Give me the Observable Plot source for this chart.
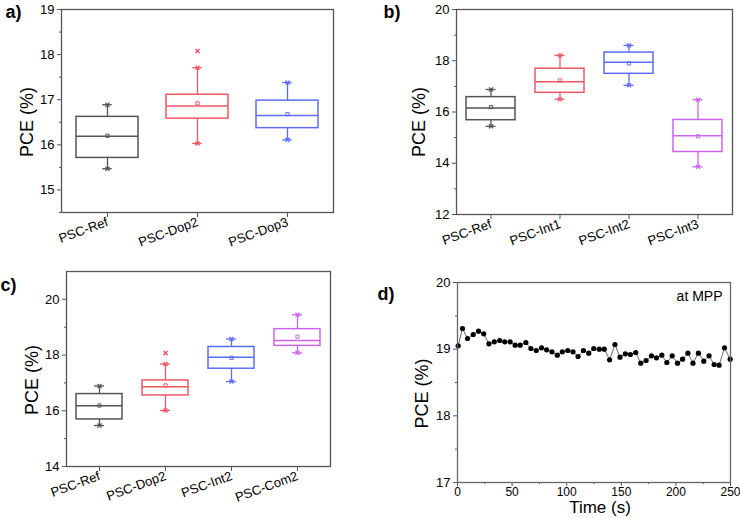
<!DOCTYPE html>
<html>
<head>
<meta charset="utf-8">
<script src="https://cdn.jsdelivr.net/npm/d3@7"></script>
<script src="https://cdn.jsdelivr.net/npm/@observablehq/plot@0.6"></script>
<style>
  html, body { margin: 0; padding: 0; background: #fff; }
  #wrap { position: relative; width: 740px; height: 518px; background: #fff; }
  #wrap svg { position: absolute; }
</style>
</head>
<body>
<div id="wrap"></div>
<script>
// ---------- Panel a ----------
const catsA  = ["PSC-Ref", "PSC-Dop2", "PSC-Dop3"];
const colsA  = ["#555555", "#f25767", "#5b6cf5"];
const minA   = [15.47, 16.03, 16.11];
const q1A    = [15.71, 16.58, 16.37];
const medA   = [16.19, 16.86, 16.65];
const meanA  = [16.20, 16.92, 16.68];
const q3A    = [16.62, 17.11, 16.98];
const maxA   = [16.89, 17.71, 17.38];
const outCatA = ["PSC-Dop2"];
const outValA = [18.08];

// ---------- Panel b ----------
const catsB  = ["PSC-Ref", "PSC-Int1", "PSC-Int2", "PSC-Int3"];
const colsB  = ["#555555", "#f25767", "#5b6cf5", "#cc66ee"];
const minB   = [15.44, 16.50, 17.04, 13.86];
const q1B    = [15.68, 16.75, 17.49, 14.44];
const medB   = [16.16, 17.18, 17.94, 15.07];
const meanB  = [16.19, 17.23, 17.90, 15.05];
const q3B    = [16.58, 17.69, 18.32, 15.69];
const maxB   = [16.88, 18.21, 18.60, 16.48];

// ---------- Panel c ----------
const catsC  = ["PSC-Ref", "PSC-Dop2", "PSC-Int2", "PSC-Com2"];
const colsC  = ["#555555", "#f25767", "#5b6cf5", "#cc66ee"];
const minC   = [15.47, 16.01, 17.05, 18.08];
const q1C    = [15.69, 16.55, 17.51, 18.33];
const medC   = [16.18, 16.86, 17.92, 18.52];
const meanC  = [16.19, 16.91, 17.90, 18.66];
const q3C    = [16.60, 17.09, 18.29, 18.93];
const maxC   = [16.89, 17.68, 18.58, 19.45];
const outCatC = ["PSC-Dop2"];
const outValC = [18.07];

// ---------- Panel d ----------
const timeD = [0.6, 4.6, 9.2, 14.4, 19.3, 24.0, 28.8, 33.7, 38.7, 43.3, 48.2, 52.8, 57.4, 62.6, 67.2,
  72.1, 77.0, 81.6, 86.5, 91.4, 96.0, 101.0, 105.8, 110.4, 115.3, 120.2, 124.8, 129.8, 134.4, 139.3,
  144.2, 148.8, 153.7, 158.3, 163.2, 167.8, 172.7, 177.6, 182.2, 187.1, 191.7, 196.6, 201.5, 206.1,
  211.0, 215.6, 220.6, 225.5, 230.4, 235.0, 239.6, 244.5, 249.7];
const pceD = [19.05, 19.31, 19.16, 19.22, 19.27, 19.23, 19.08, 19.11, 19.13, 19.11, 19.11, 19.06, 19.06, 19.10, 19.01,
  18.98, 19.02, 18.99, 18.96, 18.91, 18.96, 18.98, 18.96, 18.89, 18.98, 18.94, 19.01, 19.00, 19.00, 18.84,
  19.07, 18.88, 18.93, 18.92, 18.95, 18.79, 18.83, 18.90, 18.87, 18.91, 18.80, 18.90, 18.79, 18.85,
  18.94, 18.79, 18.94, 18.82, 18.90, 18.77, 18.76, 19.02, 18.85];

const yLabel = "PCE (%)";
const xLabelD = "Time (s)";
const noteD = "at MPP";

const FONT = "'Liberation Sans', Arial, Helvetica, sans-serif";
const fmt = d3.format("~g");
const wrap = document.getElementById("wrap");

function place(svg, left, top) {
  svg.style.left = left + "px";
  svg.style.top = top + "px";
  wrap.appendChild(svg);
}

function boxPanel(o) {
  const rows = o.cats.map((c, i) => ({cat: c, min: o.min[i], q1: o.q1[i], med: o.med[i], mean: o.mean[i], q3: o.q3[i], max: o.max[i]}));
  const outs = (o.outCat || []).map((c, i) => ({cat: c, v: o.outVal[i]}));
  const plotW = 370 - o.ml - o.mr;
  const step = plotW / (o.cats.length - o.pi + 2 * o.po);
  const bw = step * (1 - o.pi);
  const capInset = bw / 2 - 5;
  return Plot.plot({
    width: 370, height: 259,
    marginLeft: o.ml, marginRight: o.mr, marginTop: o.mt, marginBottom: o.mb,
    style: {fontFamily: FONT, fontSize: "13px", color: "#000", background: "transparent", overflow: "visible"},
    x: {domain: o.cats, type: "band", paddingInner: o.pi, paddingOuter: o.po},
    y: {domain: o.ydom},
    color: {domain: o.cats, range: o.cols},
    marks: [
      Plot.axisY({ticks: o.major, tickSize: 4, tickPadding: 3, tickFormat: fmt, label: null, fontSize: 13, stroke: "#555"}),
      Plot.axisY({ticks: o.minor, tickSize: 2, tickFormat: () => "", label: null, stroke: "#555"}),
      Plot.axisX({tickSize: 5, tickRotate: -20, tickPadding: 4, label: null, fontSize: 13, stroke: "#555"}),
      Plot.ruleX(rows, {x: "cat", y1: "q3", y2: "max", stroke: "cat", strokeWidth: 1.3}),
      Plot.ruleX(rows, {x: "cat", y1: "min", y2: "q1", stroke: "cat", strokeWidth: 1.3}),
      Plot.barY(rows, {x: "cat", y1: "q1", y2: "q3", fill: "none", stroke: "cat", strokeWidth: 1.5}),
      Plot.tickY(rows, {x: "cat", y: "med", stroke: "cat", strokeWidth: 1.5}),
      Plot.tickY(rows, {x: "cat", y: "max", stroke: "cat", strokeWidth: 1.3, insetLeft: capInset, insetRight: capInset}),
      Plot.tickY(rows, {x: "cat", y: "min", stroke: "cat", strokeWidth: 1.3, insetLeft: capInset, insetRight: capInset}),
      Plot.dot(rows, {x: "cat", y: "max", stroke: "cat", symbol: "times", r: 2, strokeWidth: 1.3}),
      Plot.dot(rows, {x: "cat", y: "min", stroke: "cat", symbol: "times", r: 2, strokeWidth: 1.3}),
      Plot.dot(rows, {x: "cat", y: "mean", stroke: "cat", symbol: "square", r: 1.8, strokeWidth: 1}),
      Plot.dot(outs, {x: "cat", y: "v", stroke: "cat", symbol: "times", r: 2, strokeWidth: 1.5}),
      Plot.frame({stroke: "#555", strokeWidth: 1.3}),
      Plot.text([yLabel], {frameAnchor: "left", rotate: -90, dx: o.ldx, dy: o.ldy, fontSize: 18, lineAnchor: "middle", textAnchor: "middle", fill: "#000"}),
      Plot.text([o.letter], {frameAnchor: "top-left", dx: o.tdx, dy: o.tdy, fontSize: 18, fontWeight: "bold", textAnchor: "start", lineAnchor: "middle", fill: "#000"})
    ]
  });
}

place(boxPanel({
  cats: catsA, cols: colsA, min: minA, q1: q1A, med: medA, mean: meanA, q3: q3A, max: maxA,
  outCat: outCatA, outVal: outValA,
  ml: 61, mr: 37, mt: 9, mb: 47, pi: 0.308, po: 0.16,
  ydom: [14.5, 19], major: [15, 16, 17, 18, 19], minor: [14.5, 15.5, 16.5, 17.5, 18.5],
  ldx: -34, ldy: 11, letter: "a)", tdx: -56, tdy: 3
}), 0, 0);

place(boxPanel({
  cats: catsB, cols: colsB, min: minB, q1: q1B, med: medB, mean: meanB, q3: q3B, max: maxB,
  ml: 86, mr: 8, mt: 9, mb: 45, pi: 0.293, po: 0.138,
  ydom: [12, 20], major: [12, 14, 16, 18, 20], minor: [13, 15, 17, 19],
  ldx: -37, ldy: 10, letter: "b)", tdx: -73, tdy: 3
}), 370, 0);

place(boxPanel({
  cats: catsC, cols: colsC, min: minC, q1: q1C, med: medC, mean: meanC, q3: q3C, max: maxC,
  outCat: outCatC, outVal: outValC,
  ml: 66, mr: 40, mt: 12, mb: 52, pi: 0.303, po: 0.15,
  ydom: [14, 21], major: [14, 16, 18, 20], minor: [15, 17, 19],
  ldx: -34, ldy: 11, letter: "c)", tdx: -66, tdy: 14
}), 0, 259);

// Panel d
const rowsD = timeD.map((t, i) => ({t, v: pceD[i]}));
place(Plot.plot({
  width: 370, height: 259,
  marginLeft: 87, marginRight: 10, marginTop: 23, marginBottom: 36,
  style: {fontFamily: FONT, fontSize: "13px", color: "#000", background: "transparent", overflow: "visible"},
  x: {domain: [0, 250]},
  y: {domain: [17, 20]},
  marks: [
    Plot.axisY({ticks: [17, 18, 19, 20], tickSize: 4, tickPadding: 3, tickFormat: fmt, label: null, fontSize: 13, stroke: "#555"}),
    Plot.axisY({ticks: [17.5, 18.5, 19.5], tickSize: 2, tickFormat: () => "", label: null, stroke: "#555"}),
    Plot.axisX({ticks: [0, 50, 100, 150, 200, 250], tickSize: 4, tickPadding: 1, tickFormat: fmt, label: null, fontSize: 12, stroke: "#555"}),
    Plot.axisX({ticks: [25, 75, 125, 175, 225], tickSize: 2, tickFormat: () => "", label: null, stroke: "#555"}),
    Plot.line(rowsD, {x: "t", y: "v", stroke: "#444", strokeWidth: 0.8}),
    Plot.dot(rowsD, {x: "t", y: "v", r: 2.6, fill: "#000"}),
    Plot.frame({stroke: "#666", strokeWidth: 1.3}),
    Plot.text([noteD], {frameAnchor: "top-right", dx: -8, dy: 14, fontSize: 14, textAnchor: "end", lineAnchor: "middle", fill: "#000"}),
    Plot.text([yLabel], {frameAnchor: "left", rotate: -90, dx: -35, dy: 11, fontSize: 18, lineAnchor: "middle", textAnchor: "middle", fill: "#000"}),
    Plot.text([xLabelD], {frameAnchor: "bottom", dx: 6, dy: 25, fontSize: 17, lineAnchor: "middle", textAnchor: "middle", fill: "#000"}),
    Plot.text(["d)"], {frameAnchor: "top-left", dx: -80, dy: 12, fontSize: 18, fontWeight: "bold", textAnchor: "start", lineAnchor: "middle", fill: "#000"})
  ]
}), 370, 259);
</script>
</body>
</html>
